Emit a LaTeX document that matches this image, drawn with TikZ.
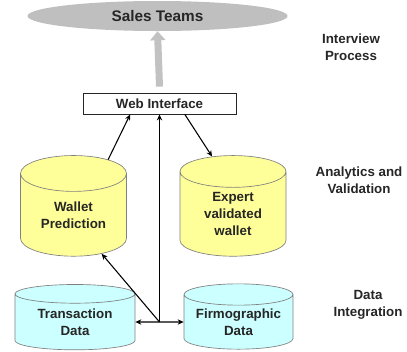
\documentclass[tikz,border=0pt]{standalone}
\usepackage{fontspec}
\setmainfont{Liberation Sans}
\usetikzlibrary{positioning, arrows.meta, calc, shapes.geometric}
\definecolor{walletyellow}{RGB}{255, 255, 153}
\definecolor{datacyan}{RGB}{204, 255, 255}
\definecolor{teamgray}{RGB}{191, 191, 191}
\definecolor{rimgray}{RGB}{128, 128, 128}
\definecolor{inkgray}{RGB}{38, 38, 38}

\begin{document}
\begin{tikzpicture}[x=0.75pt, y=-0.75pt,
    every node/.style={font=\fontsize{10}{12.5}\selectfont\bfseries, text=inkgray, align=center},
    store/.style={cylinder, shape border rotate=90, draw=rimgray, line width=0.5pt, inner sep=0pt},
    walletstore/.style={store, fill=walletyellow, aspect=0.55,
      minimum width=79.5pt, minimum height=75.5pt},
    datastore/.style={store, fill=datacyan, aspect=0.25,
      minimum height=49pt},
    link/.style={-{Stealth[length=4.5pt, width=4pt]}, line width=0.8pt, black},
    stage/.style={font=\fontsize{10}{12.5}\selectfont\bfseries}
  ]
  \useasboundingbox (0,0) rectangle (407,351);

  % top: who gets the numbers
  \node[ellipse, fill=teamgray, minimum width=195pt, minimum height=22.5pt,
    font=\fontsize{11.5}{13}\selectfont\bfseries] (sales) at (157.5,16) {Sales Teams};
  \node[draw=inkgray, line width=0.6pt, fill=white, minimum width=114.75pt,
    minimum height=15.75pt, inner sep=0pt] (web) at (159.5,103.5) {Web Interface};

  % analytics layer
  \node[walletstore] (wallet) at (73.5,215) {Wallet\\Prediction};
  \node[walletstore] (expert) at (233,214) {Expert\\validated\\wallet};

  % data layer
  \node[datastore, minimum width=90pt] (trans) at (75,322) {Transaction\\Data};
  \node[datastore, minimum width=81.75pt] (firmo) at (238.5,322) {Firmographic\\Data};

  % stage labels on the right
  \node[stage] (interview) at (351,47) {Interview\\Process};
  \node[stage] (analytics) at (359,180) {Analytics and\\Validation};
  \node[stage] (integration) at (368,305) {Data\\Integration};

  % connectors
  \coordinate (hub) at (web.south |- trans.east);
  \draw[-{Triangle[length=6.75pt, width=11.25pt]}, line width=5.25pt, teamgray!95]
    ([yshift=4.5pt]web.north) -- (sales.south);
  \draw[link, {Stealth[length=4.5pt, width=4pt]}-{Stealth[length=4.5pt, width=4pt]}]
    (trans.east) -- (firmo.west);
  \draw[link] (hub) -- (web.south);
  \draw[link] (hub) -- (wallet.-54);
  \draw[link] (wallet.58) -- ([xshift=-22pt]web.south);
  \draw[link] ([xshift=19pt]web.south) -- (expert.110);
\end{tikzpicture}
\end{document}
